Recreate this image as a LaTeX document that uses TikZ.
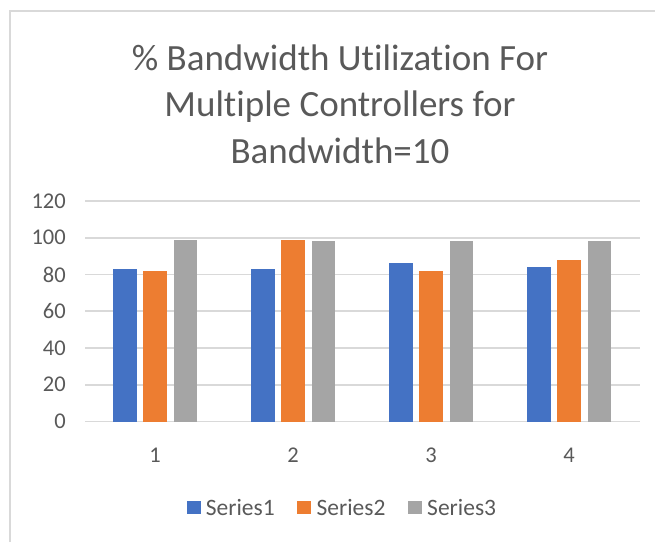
\documentclass[tikz,border=0pt]{standalone}
\usepackage{fontspec}
\setmainfont{Carlito}[Ligatures={NoCommon}]
\usetikzlibrary{positioning}

\definecolor{seriesblue}{HTML}{4472C4}
\definecolor{seriesorange}{HTML}{ED7D31}
\definecolor{seriesgray}{HTML}{A5A5A5}
\definecolor{labelgray}{HTML}{595959}
\definecolor{gridgray}{HTML}{D9D9D9}

\tikzset{
    ticklabel/.style={text=labelgray, font=\fontsize{22.5}{27}\selectfont, inner sep=0pt},
    legendlabel/.style={text=labelgray, font=\fontsize{23.5}{28}\selectfont, inner sep=0pt},
    legendbox/.style={minimum width=14pt, minimum height=13pt, inner sep=0pt},
    gridline/.style={draw=gridgray, line width=1.6pt}
}

\begin{document}
\begin{tikzpicture}[x=1pt, y=-1pt]
    \useasboundingbox (0,0) rectangle (655,542);

    % Chart frame
    \draw[gridgray, line width=1.8pt] (10,542) -- (10,11) -- (655,11);

    % Title
    \node[text=labelgray, align=center, font=\fontsize{37}{46.5}\selectfont] (title) at (340,104)
        {\% Bandwidth Utilization For\\Multiple Controllers for\\Bandwidth=10};

    % Grid and y-axis labels
    \foreach \val in {0,20,...,120} {
        \pgfmathsetmacro{\ypos}{421.5-\val*1.8375}
        \draw[gridline] (85,\ypos) -- (640,\ypos);
        \node[ticklabel, anchor=east] (y\val) at (66,\ypos) {\val};
    }

    % Bars
    \foreach \grp/\va/\vb/\vc in {1/83/82/99, 2/83/99/98, 3/86/82/98, 4/84/88/98} {
        \pgfmathsetmacro{\cx}{155+138*(\grp-1)}
        \fill[seriesblue] (\cx-42,421.5) rectangle (\cx-18,421.5-\va*1.8375);
        \fill[seriesorange] (\cx-12,421.5) rectangle (\cx+12,421.5-\vb*1.8375);
        \fill[seriesgray] (\cx+19,421.5) rectangle (\cx+42,421.5-\vc*1.8375);
        \node[ticklabel] (x\grp) at (\cx,455) {\grp};
    }

    % Legend
    \node[legendbox, fill=seriesblue] (keyA) at (193.5,507) {};
    \node[legendlabel, right=5pt of keyA] (nameA) {Series1};
    \node[legendbox, fill=seriesorange, right=22pt of nameA] (keyB) {};
    \node[legendlabel, right=5pt of keyB] (nameB) {Series2};
    \node[legendbox, fill=seriesgray, right=22pt of nameB] (keyC) {};
    \node[legendlabel, right=5pt of keyC] (nameC) {Series3};
\end{tikzpicture}
\end{document}
